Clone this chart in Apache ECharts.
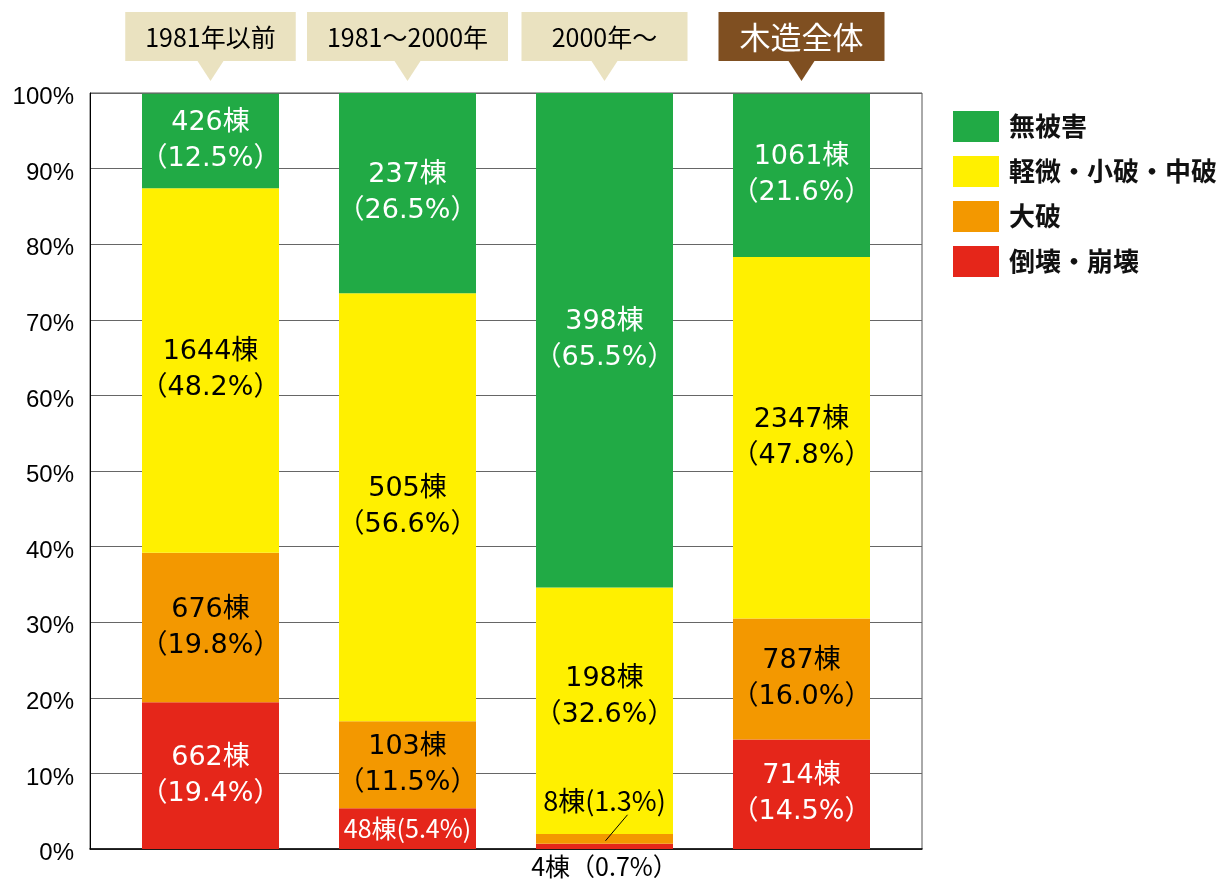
<!DOCTYPE html>
<html>
<head>
<meta charset="utf-8">
<script src="https://cdn.jsdelivr.net/npm/echarts@6/dist/echarts.min.js"></script>
<style>
html,body{margin:0;padding:0;background:#fff;}
#chart{width:1223px;height:881px;}
</style>
</head>
<body>
<div id="chart"></div>
<script>
// ---- data ----
const categories = ['1981年以前', '1981～2000年', '2000年～', '木造全体'];
const seriesNames = ['倒壊・崩壊', '大破', '軽微・小破・中破', '無被害'];
const legendOrder = ['無被害', '軽微・小破・中破', '大破', '倒壊・崩壊'];
const collapsePct = [19.4, 5.4, 0.7, 14.5];
const collapseCnt = [662, 48, 4, 714];
const heavyPct = [19.8, 11.5, 1.3, 16.0];
const heavyCnt = [676, 103, 8, 787];
const lightPct = [48.2, 56.6, 32.6, 47.8];
const lightCnt = [1644, 505, 198, 2347];
const nonePct = [12.5, 26.5, 65.5, 21.6];
const noneCnt = [426, 237, 398, 1061];
const yMin = 0, yMax = 100, yStep = 10;

// ---- styles ----
const colors = ['#E5261A', '#F39800', '#FFF000', '#21AA45'];
const labelColors = ['#fff', '#000', '#000', '#fff'];
const BIG_FONT = '"DejaVu Sans", "Noto Sans CJK JP", sans-serif';
const CJK_FONT = '"Noto Sans CJK JP", sans-serif';

const smallLabel = (color, size) => ({
  fontFamily: CJK_FONT, fontSize: size || 25, lineHeight: 28, color: color
});

function makeSeries(idx, pct, cnt, overrides, layout) {
  return {
    name: seriesNames[idx],
    type: 'bar',
    stack: 'total',
    xAxisIndex: 0, yAxisIndex: 0,
    barWidth: 137,
    itemStyle: { color: colors[idx] },
    label: {
      show: true,
      position: 'inside',
      color: labelColors[idx],
      fontFamily: BIG_FONT,
      fontSize: 27,
      lineHeight: 36,
      formatter: (p) => {
        const i = p.dataIndex;
        const o = overrides[i];
        if (o && o.single) return cnt[i] + '棟' + o.single.replace('#', pct[i].toFixed(1));
        return cnt[i] + '棟\n（' + pct[i].toFixed(1) + '%）';
      }
    },
    labelLayout: layout,
    emphasis: { disabled: true },
    data: pct.map((v, i) => {
      const d = { value: v };
      const o = overrides[i];
      if (o) d.label = Object.assign({}, o.label);
      return d;
    })
  };
}

const series = [
  makeSeries(0, collapsePct, collapseCnt, {
    1: { single: '(#%)', label: smallLabel('#fff', 25) },
    2: { single: '（#%）', label: Object.assign(smallLabel('#000', 25), { position: 'bottom', distance: 3 }) }
  }),
  makeSeries(1, heavyPct, heavyCnt, {
    2: { single: '(#%)', label: smallLabel('#000', 27) }
  }, (p) => (p.dataIndex === 2 ? { dy: -38 } : {})),
  makeSeries(2, lightPct, lightCnt, {}, (p) => (p.dataIndex === 2 ? { dy: -14 } : {})),
  makeSeries(3, nonePct, noneCnt, {})
];

// header boxes
const measureCtx = document.createElement('canvas').getContext('2d');
series.push({
  type: 'custom',
  xAxisIndex: 1, yAxisIndex: 1,
  clip: false,
  silent: true,
  data: categories.map((c, i) => [i, 0]),
  renderItem: (params, api) => {
    const i = params.dataIndex;
    const isTotal = i === categories.length - 1;
    const p = api.coord([api.value(0), 0]);
    const cx = p[0], top = p[1] + 12;
    const fs = isTotal ? 31 : 25;
    const fill = isTotal ? '#7F4F21' : '#EAE2C0';
    measureCtx.font = fs + 'px "Noto Sans CJK JP"';
    const tw = measureCtx.measureText(categories[i]).width;
    const w = Math.max(166, tw + 40);
    const h = 49;
    return {
      type: 'group',
      children: [
        { type: 'rect', shape: { x: cx - w / 2, y: top, width: w, height: h }, style: { fill: fill } },
        { type: 'polygon', shape: { points: [[cx - 13, top + h], [cx + 13, top + h], [cx, top + h + 20]] }, style: { fill: fill } },
        { type: 'text', style: {
            text: categories[i], x: cx, y: top + h / 2 + 1, align: 'center', verticalAlign: 'middle',
            fill: isTotal ? '#fff' : '#000', fontSize: fs, fontFamily: CJK_FONT
          } }
      ]
    };
  }
});

const chart = echarts.init(document.getElementById('chart'), null, { renderer: 'canvas' });
chart.setOption({
  animation: false,
  backgroundColor: '#fff',
  legend: {
    data: legendOrder,
    orient: 'vertical',
    left: 953, top: 111,
    padding: 0,
    icon: 'rect',
    itemWidth: 46, itemHeight: 31, itemGap: 14,
    selectedMode: false,
    textStyle: { fontFamily: CJK_FONT, fontSize: 26, fontWeight: 'bold', color: '#111', padding: [0, 0, 0, 5] }
  },
  grid: [
    // bars
    { left: 112, right: 323, top: 93, bottom: 32, show: false, containLabel: false },
    // header
    { left: 112, right: 323, top: 0, height: 93, show: false, containLabel: false },
    // frame / axis
    { left: 90, right: 301, top: 93, bottom: 32, show: true, borderColor: '#555', borderWidth: 1, backgroundColor: 'transparent', containLabel: false }
  ],
  xAxis: [
    { type: 'category', gridIndex: 0, data: categories, boundaryGap: true, show: false },
    { type: 'category', gridIndex: 1, data: categories, boundaryGap: true, show: false },
    { type: 'value', gridIndex: 2, min: 0, max: 1,
      axisLine: { show: true, onZero: false, lineStyle: { color: '#000', width: 1.5 } },
      axisTick: { show: false }, axisLabel: { show: false }, splitLine: { show: false } }
  ],
  yAxis: [
    { type: 'value', gridIndex: 0, min: yMin, max: yMax, interval: yStep, show: false },
    { type: 'value', gridIndex: 1, min: 0, max: 93, inverse: true, show: false },
    { type: 'value', gridIndex: 2, min: yMin, max: yMax, interval: yStep,
      axisLine: { show: true, onZero: false, lineStyle: { color: '#000', width: 1 } },
      axisTick: { show: false },
      splitLine: { show: true, lineStyle: { color: '#666', width: 1 } },
      axisLabel: { formatter: '{value}%', color: '#000', fontSize: 24, fontFamily: '"Liberation Sans", Arial, sans-serif', margin: 16, verticalAlign: 'top', lineHeight: 9 } }
  ],
  series: series
});

// leader line for the small 大破 segment of the 3rd bar, anchored via the chart's own scale
const leaderIdx = 2;
const anchor = chart.convertToPixel({ xAxisIndex: 0, yAxisIndex: 0 }, [leaderIdx, collapsePct[leaderIdx] + heavyPct[leaderIdx] / 2]);
chart.setOption({
  graphic: [{
    type: 'line', silent: true, z: 100,
    shape: { x1: anchor[0] + 1, y1: anchor[1] + 2, x2: anchor[0] + 23, y2: anchor[1] - 24 },
    style: { stroke: '#000', lineWidth: 1 }
  }]
});
</script>
</body>
</html>
